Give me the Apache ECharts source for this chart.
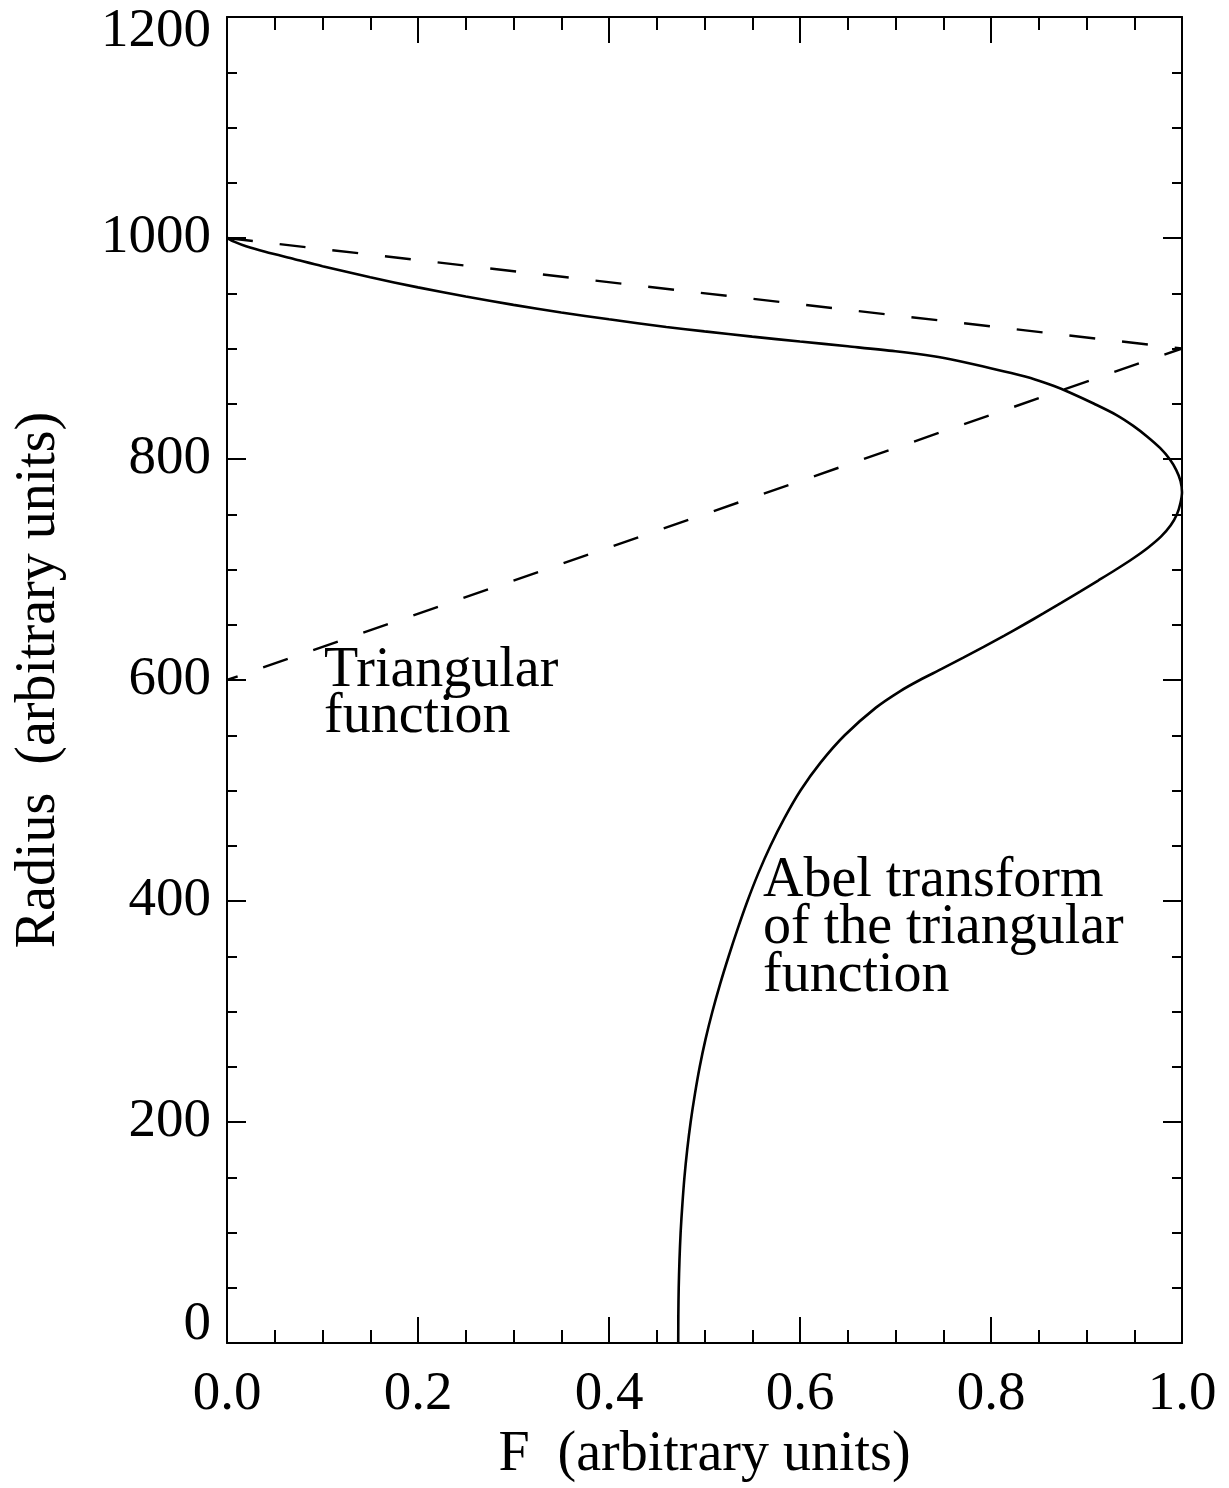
<!DOCTYPE html>
<html>
<head>
<meta charset="utf-8">
<script src="https://cdn.jsdelivr.net/npm/echarts@6/dist/echarts.min.js"></script>
<style>
html,body{margin:0;padding:0;background:#fff;}
#chart{width:1229px;height:1488px;}
</style>
</head>
<body>
<div id="chart"></div>
<script>
// ---- data ----
const xTickLabels = ['0.0', '0.2', '0.4', '0.6', '0.8', '1.0'];
const yTickLabels = ['0', '200', '400', '600', '800', '1000', '1200'];

// Triangular function (dashed): F vs Radius
const triangleF = [0, 1, 0];
const triangleR = [1000, 900, 600];

// Abel transform of the triangular function (solid): F vs Radius
const abelR = [0, 25, 50, 75, 100, 125, 150, 175, 200, 225, 250, 275, 300, 325, 350, 375, 400, 425, 450, 475, 500, 525, 550, 575, 590, 600,
  610, 620, 630, 640, 650, 660, 670, 680, 690, 700, 710, 720, 730, 740, 750, 760, 770,
  780, 790, 800, 810, 820, 830, 840, 850, 860, 866, 872, 878, 884, 889, 893, 897.5,
  902, 906.3, 910.75, 915.5, 919.5, 926.4, 932.6, 939.5, 947, 955.3, 964.5, 974.5, 981, 987.5, 992.5, 996.5, 1000];
const abelF = [0.4725, 0.4726, 0.4730, 0.4738, 0.4750, 0.4768, 0.4790, 0.4819, 0.4855, 0.4899, 0.4950, 0.5011, 0.5083, 0.5164, 0.5253, 0.5348, 0.5450, 0.5563, 0.5691, 0.5837, 0.6005, 0.6213, 0.6468, 0.6795, 0.7050, 0.7255,
  0.7483, 0.7705, 0.7923, 0.8135, 0.8342, 0.8543, 0.8739, 0.8932, 0.9122, 0.9309, 0.9487, 0.9647, 0.9782, 0.9882, 0.9947, 0.9983, 1.0,
  0.9985, 0.994, 0.987, 0.977, 0.964, 0.949, 0.931, 0.908, 0.883, 0.866, 0.846, 0.820, 0.791, 0.765, 0.740, 0.700,
  0.650, 0.600, 0.550, 0.500, 0.460, 0.400, 0.350, 0.300, 0.250, 0.200, 0.150, 0.100, 0.070, 0.040, 0.020, 0.008, 0];

const annotTriangular = ['Triangular', 'function'];
const annotAbel = ['Abel transform', 'of the triangular', 'function'];

// ---- chart ----
const FONT = '"Liberation Serif", "Times New Roman", Times, serif';
const chart = echarts.init(document.getElementById('chart'), null, {renderer: 'canvas'});

const triData = triangleF.map((f, i) => [f, triangleR[i]]);
const abelData = abelF.map((f, i) => [f, abelR[i]]);

const axisLineStyle = {show: true, onZero: false, lineStyle: {color: '#000', width: 2}};

function xAxisCfg(pos, showLabels) {
  return {
    type: 'value', position: pos, min: 0, max: 1, interval: 0.2,
    axisLine: axisLineStyle,
    axisTick: {show: true, inside: true, length: 26, lineStyle: {color: '#000', width: 2}},
    minorTick: {show: true, splitNumber: 4, length: 13, lineStyle: {color: '#000', width: 2}},
    splitLine: {show: false},
    axisLabel: {
      show: showLabels, margin: 24, color: '#000', fontFamily: FONT, fontSize: 55,
      showMinLabel: true, showMaxLabel: true,
      formatter: v => xTickLabels[Math.round(v / 0.2)]
    },
    name: showLabels ? 'F  (arbitrary units)' : '',
    nameLocation: 'middle', nameGap: 84,
    nameTextStyle: {color: '#000', fontFamily: FONT, fontSize: 56}
  };
}
function yAxisCfg(pos, showLabels) {
  return {
    type: 'value', position: pos, min: 0, max: 1200, interval: 200,
    axisLine: axisLineStyle,
    axisTick: {show: true, inside: true, length: 19, lineStyle: {color: '#000', width: 2}},
    minorTick: {show: true, splitNumber: 4, length: 10, lineStyle: {color: '#000', width: 2}},
    splitLine: {show: false},
    axisLabel: {
      show: showLabels, margin: 16, color: '#000', fontFamily: FONT, fontSize: 55,
      showMinLabel: true, showMaxLabel: true,
      formatter: function (v) {
        const s = yTickLabels[Math.round(v / 200)];
        if (v === 1200) return '{top|' + s + '}';
        if (v === 0) return '{bot|' + s + '}';
        return s;
      },
      rich: {
        top: {fontFamily: FONT, fontSize: 55, color: '#000', padding: [30, 0, 0, 0]},
        bot: {fontFamily: FONT, fontSize: 55, color: '#000', padding: [0, 0, 36, 0]}
      }
    },
    name: showLabels ? 'Radius  (arbitrary units)' : '',
    nameLocation: 'middle', nameGap: 160, nameRotate: 90,
    nameTextStyle: {color: '#000', fontFamily: FONT, fontSize: 56}
  };
}

function textEl(str, x, y) {
  return {
    type: 'text', silent: true,
    style: {text: str, x: x, y: y, fill: '#000', font: '56px ' + FONT, align: 'left', verticalAlign: 'middle'}
  };
}

const graphics = [];
const triY = [671, 717];
annotTriangular.forEach((t, i) => graphics.push(textEl(t, 324, triY[i])));
const abelY = [881, 928, 976];
annotAbel.forEach((t, i) => graphics.push(textEl(t, 763, abelY[i])));

chart.setOption({
  animation: false,
  backgroundColor: '#fff',
  grid: {left: 227, right: 47, top: 17, bottom: 145, containLabel: false},
  xAxis: [xAxisCfg('bottom', true), xAxisCfg('top', false)],
  yAxis: [yAxisCfg('left', true), yAxisCfg('right', false)],
  series: [
    {
      name: 'Triangular function', type: 'line', xAxisIndex: 0, yAxisIndex: 0,
      data: triData, symbol: 'none', smooth: false,
      lineStyle: {color: '#000', width: 2.4, type: [26, 27]}
    },
    {
      name: 'Abel transform', type: 'line', xAxisIndex: 0, yAxisIndex: 0,
      data: abelData, symbol: 'none', smooth: 0.3,
      lineStyle: {color: '#000', width: 2.6}
    }
  ],
  graphic: graphics
});
</script>
</body>
</html>
